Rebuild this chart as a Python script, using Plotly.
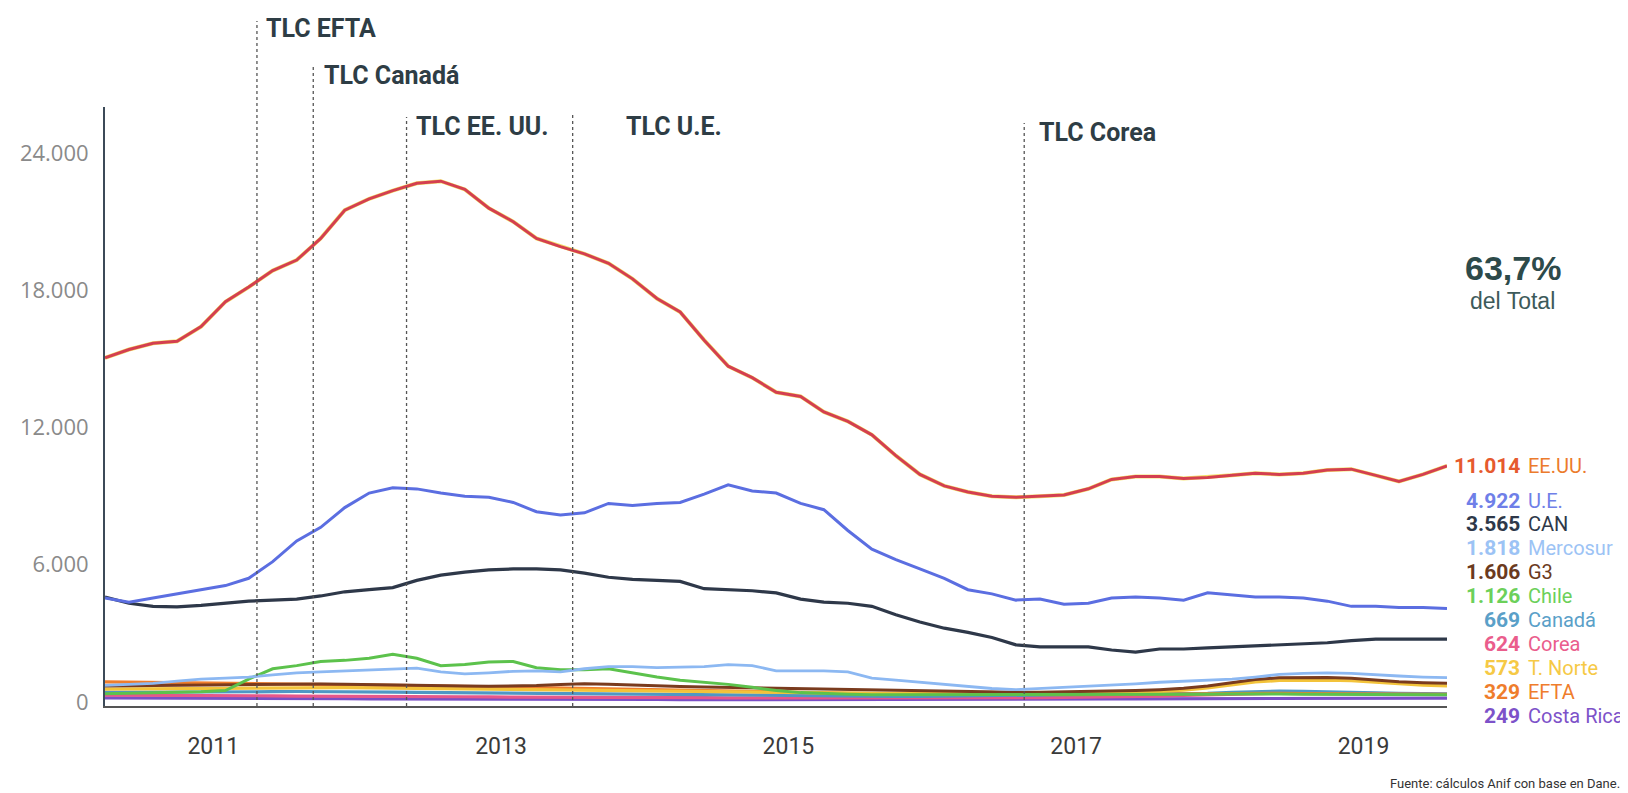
import plotly.graph_objects as go
import pandas as pd

# ---------------- data ----------------
dates = pd.date_range("2010-04-01", periods=57, freq="2MS")

ee_uu = [15050, 15410, 15680, 15770, 16410, 17500, 18140, 18860, 19320, 20270,
         21500, 22000, 22360, 22680, 22770, 22410, 21590, 21000, 20270, 19910,
         19590, 19180, 18500, 17640, 17050, 15820, 14680, 14180, 13540, 13360,
         12680, 12270, 11680, 10770, 9950, 9450, 9180, 9000, 8950, 9000,
         9050, 9320, 9730, 9860, 9860, 9770, 9820, 9910, 10000, 9950,
         10000, 10140, 10180, 9910, 9640, 9950, 10320]
ue = [4545, 4363, 4545, 4727, 4909, 5090, 5409, 6136, 7045, 7636,
      8499, 9135, 9363, 9317, 9135, 8999, 8954, 8726, 8317, 8181,
      8272, 8681, 8590, 8681, 8726, 9090, 9499, 9226, 9135, 8681,
      8408, 7499, 6681, 6227, 5818, 5409, 4909, 4727, 4454, 4499,
      4272, 4318, 4545, 4590, 4545, 4454, 4772, 4681, 4590, 4590,
      4545, 4409, 4181, 4181, 4136, 4136, 4090]
can = [4590, 4318, 4181, 4159, 4227, 4318, 4409, 4454, 4500, 4636,
       4818, 4909, 5000, 5318, 5545, 5681, 5772, 5818, 5818, 5772,
       5636, 5454, 5363, 5318, 5272, 4954, 4909, 4863, 4772, 4500,
       4363, 4318, 4181, 3818, 3500, 3227, 3045, 2818, 2500, 2409,
       2409, 2409, 2272, 2182, 2318, 2318, 2363, 2409, 2454, 2500,
       2545, 2591, 2682, 2750, 2750, 2750, 2750]
mercosur = [727, 773, 818, 909, 1000, 1045, 1091, 1182, 1273, 1318,
            1364, 1409, 1454, 1477, 1318, 1227, 1273, 1341, 1364, 1318,
            1454, 1545, 1545, 1500, 1523, 1545, 1636, 1591, 1364, 1364,
            1364, 1318, 1045, 954, 863, 773, 659, 591, 545, 591,
            636, 682, 727, 795, 863, 909, 932, 1000, 1091, 1204,
            1250, 1273, 1250, 1182, 1136, 1091, 1068]
chile = [360, 380, 400, 430, 450, 500, 1000, 1450, 1590, 1770,
         1820, 1910, 2090, 1910, 1590, 1640, 1750, 1770, 1500, 1410,
         1410, 1450, 1270, 1090, 950, 860, 770, 640, 500, 410,
         360, 340, 320, 320, 310, 320, 330, 320, 310, 320,
         330, 340, 330, 320, 320, 330, 340, 350, 360, 350,
         340, 340, 330, 330, 320, 320, 320]
g3 = [700, 710, 720, 730, 740, 760, 780, 790, 800, 790,
      780, 770, 760, 740, 720, 700, 690, 700, 720, 760,
      800, 780, 740, 700, 680, 660, 640, 620, 600, 580,
      560, 540, 520, 500, 480, 460, 450, 440, 430, 430,
      440, 450, 470, 500, 540, 600, 700, 850, 980, 1060,
      1080, 1070, 1040, 960, 880, 840, 820]
t_norte = [560, 570, 580, 590, 600, 610, 620, 630, 640, 640,
           630, 620, 610, 600, 580, 560, 540, 530, 520, 510,
           500, 490, 480, 470, 460, 450, 440, 430, 420, 410,
           400, 390, 380, 370, 360, 350, 340, 340, 340, 350,
           360, 370, 390, 420, 460, 520, 620, 760, 880, 940,
           960, 950, 930, 880, 800, 740, 700]
efta = [880, 870, 860, 850, 840, 830, 820, 810, 800, 790,
        780, 760, 740, 720, 700, 680, 660, 640, 620, 600,
        580, 560, 540, 520, 500, 480, 460, 440, 420, 400,
        390, 380, 370, 360, 350, 340, 330, 320, 320, 320,
        320, 320, 330, 340, 350, 360, 370, 380, 380, 380,
        370, 360, 350, 340, 330, 330, 330]
canada = [420, 420, 430, 430, 440, 440, 450, 450, 460, 460,
          450, 440, 430, 420, 410, 400, 390, 380, 380, 370,
          360, 350, 340, 330, 320, 310, 300, 290, 280, 270,
          260, 260, 250, 250, 250, 260, 260, 270, 280, 290,
          300, 310, 320, 330, 340, 360, 380, 420, 460, 480,
          470, 440, 420, 400, 380, 370, 360]
corea = [300, 300, 290, 290, 280, 280, 270, 270, 260, 260,
         250, 250, 240, 240, 230, 230, 220, 220, 210, 210,
         200, 200, 200, 190, 190, 190, 180, 180, 180, 170,
         170, 170, 170, 160, 160, 160, 170, 170, 180, 190,
         200, 210, 220, 240, 260, 290, 320, 350, 380, 400,
         410, 400, 390, 370, 350, 340, 330]
costa_rica = [180, 180, 170, 170, 170, 160, 160, 160, 150, 150,
              150, 140, 140, 140, 130, 130, 130, 120, 120, 120,
              110, 110, 110, 110, 100, 100, 100, 100, 100, 100,
              100, 100, 100, 100, 100, 110, 110, 110, 120, 120,
              120, 130, 130, 140, 140, 150, 150, 160, 160, 170,
              170, 170, 170, 170, 170, 170, 170]

y_ticks = [0, 6000, 12000, 18000, 24000]
x_ticks = ["2011-01-01", "2013-01-01", "2015-01-01", "2017-01-01", "2019-01-01"]
x_tick_text = ["2011", "2013", "2015", "2017", "2019"]

events = ["TLC EFTA", "TLC Canadá", "TLC EE. UU.", "TLC U.E.", "TLC Corea"]
event_dates = ["2011-04-22", "2011-09-12", "2012-05-06", "2013-07-02", "2016-08-22"]

label_names = ["EE.UU.", "U.E.", "CAN", "Mercosur", "G3", "Chile",
               "Canadá", "Corea", "T. Norte", "EFTA", "Costa Rica"]
label_values = [11014, 4922, 3565, 1818, 1606, 1126, 669, 624, 573, 329, 249]

# ---------------- layout geometry ----------------
# the page body has an 8px margin; figure is sized so it ends at the window edge
OFF = 8
WIDTH, HEIGHT = 1628 - OFF, 793 - OFF
PLOT_L, PLOT_R, PLOT_T, PLOT_B = 97, 1447, 107, 706   # page pixels
PW = PLOT_R - PLOT_L
PH = PLOT_B - PLOT_T
L = PLOT_L - OFF
T = PLOT_T - OFF
R = WIDTH - L - PW
B = HEIGHT - T - PH


def px_x(x):
    return (x - PLOT_L) / PW


def px_y(y):
    return (PLOT_B - y) / PH


COND = "Roboto, Liberation Sans, sans-serif"

fig = go.Figure()

series = [
    (costa_rica, "Costa Rica", "#7a4fc6", 3.2),
    (corea, "Corea", "#e6578a", 3.2),
    (canada, "Canadá", "#4f97c4", 3.2),
    (efta, "EFTA", "#ef7d2c", 3.2),
    (t_norte, "T. Norte", "#f3c33a", 3.2),
    (g3, "G3", "#7a3b1e", 3),
    (chile, "Chile", "#5cc24c", 3),
    (mercosur, "Mercosur", "#8cb8f2", 2.8),
    (can, "CAN", "#2e3849", 3.2),
    (ue, "U.E.", "#5b6ee1", 3),
]
for vals, name, color, w in series:
    fig.add_trace(go.Scatter(x=dates, y=vals, mode="lines", name=name,
                             line=dict(color=color, width=w), showlegend=False))

# EE.UU. line with a faint yellow print halo
fig.add_trace(go.Scatter(x=dates, y=ee_uu, mode="lines", showlegend=False,
                         line=dict(color="#f3e26a", width=4), hoverinfo="skip"))
fig.add_trace(go.Scatter(x=dates, y=ee_uu, mode="lines", name="EE.UU.", showlegend=False,
                         line=dict(color="#d43f50", width=3)))

# event lines and labels
line_tops = [21, 67, 117, 113, 123]
label_pos = [(257, 28), (315, 76), (408, 127), (619, 127), (1035, 132)]
shapes = []
annotations = []
for ev, d, top, (lx, ly) in zip(events, event_dates, line_tops, label_pos):
    shapes.append(dict(type="line", xref="x", yref="paper", x0=d, x1=d,
                       y0=0, y1=px_y(top),
                       line=dict(color="#555555", width=1.3, dash="dot")))
    annotations.append(dict(xref="paper", yref="paper", x=px_x(lx), y=px_y(ly),
                            xanchor="left", yanchor="middle", showarrow=False,
                            text=ev, font=dict(family=COND, size=25, color="#2e3d45",
                                               weight="bold")))

# right-hand labels
num_colors = ["#e65a2e", "#6f7fe8", "#2e3849", "#9cc3f5", "#6b3a1e", "#6cd05a",
              "#5aa0c8", "#ea5d8c", "#f6c945", "#ef7d2c", "#7d52c9"]
name_colors = ["#ec7b2c", "#6f7fe8", "#2e3849", "#9cc3f5", "#6b3a1e", "#6cd05a",
               "#5aa0c8", "#ea5d8c", "#f6c945", "#ef7d2c", "#7d52c9"]
for i, (nm, v) in enumerate(zip(label_names, label_values)):
    ypx = 466 if i == 0 else 500.5 + 23.9 * (i - 1)
    txt = f"{v:,}".replace(",", ".")
    annotations.append(dict(xref="paper", yref="paper", x=px_x(1522), y=px_y(ypx),
                            xanchor="right", yanchor="middle", showarrow=False,
                            text=txt, font=dict(family=COND, size=21,
                                                color=num_colors[i], weight="bold")))
    annotations.append(dict(xref="paper", yref="paper", x=px_x(1526), y=px_y(ypx),
                            xanchor="left", yanchor="middle", showarrow=False,
                            text=nm, font=dict(family=COND, size=20,
                                               color=name_colors[i])))

annotations.append(dict(xref="paper", yref="paper", x=px_x(1513), y=px_y(268),
                        xanchor="center", yanchor="middle", showarrow=False,
                        text="63,7%", font=dict(family="Liberation Sans, Arial, sans-serif",
                                                size=34, color="#2d4a4a", weight="bold")))
annotations.append(dict(xref="paper", yref="paper", x=px_x(1513), y=px_y(301),
                        xanchor="center", yanchor="middle", showarrow=False,
                        text="del Total", font=dict(family="Liberation Sans, Arial, sans-serif",
                                                    size=23, color="#3d5a5a")))
annotations.append(dict(xref="paper", yref="paper", x=px_x(1623), y=px_y(783),
                        xanchor="right", yanchor="middle", showarrow=False,
                        text="Fuente: cálculos Anif con base en Dane.",
                        font=dict(family=COND, size=13, color="#333333")))

fig.update_layout(
    width=WIDTH, height=HEIGHT,
    margin=dict(l=L, r=R, t=T, b=B),
    paper_bgcolor="white", plot_bgcolor="white",
    separators=",.",
    shapes=shapes, annotations=annotations,
    showlegend=False,
    xaxis=dict(type="date", range=[dates[0], dates[-1]],
               tickvals=x_ticks, ticktext=x_tick_text,
               showgrid=False, zeroline=False, showline=True,
               linecolor="#555555", linewidth=2, ticks="",
               ticklabelstandoff=18,
               tickfont=dict(family=COND, size=23, color="#3a3a3a")),
    yaxis=dict(range=[-175, 26013], tickvals=y_ticks, tickformat=",d",
               showgrid=False, zeroline=False, showline=True,
               linecolor="#3c4a58", linewidth=2, ticks="",
               ticklabelstandoff=10,
               tickfont=dict(family="Open Sans, sans-serif", size=22, color="#8a8a8a")),
)

fig.write_html("out.html")
